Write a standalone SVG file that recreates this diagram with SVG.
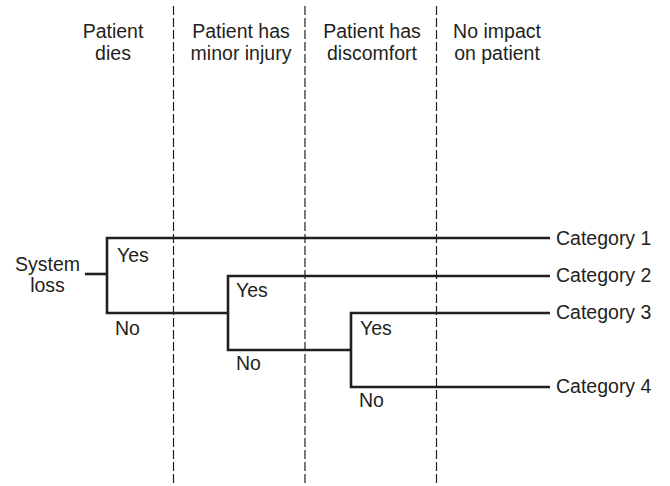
<svg xmlns="http://www.w3.org/2000/svg" width="670" height="486" viewBox="0 0 670 486">
<style>
text { font-family: "Liberation Sans", Arial, sans-serif; font-size: 19.5px; fill: #231f20; }
.c { text-anchor: middle; }
.div { stroke: #231f20; stroke-width: 1.2; stroke-dasharray: 9 3; fill: none; }
.edge { stroke: #231f20; stroke-width: 2.6; fill: none; stroke-linejoin: miter; stroke-linecap: butt; }
</style>
<rect width="670" height="486" fill="#ffffff"/>
<g id="dividers">
<line class="div" x1="173.5" y1="6" x2="173.5" y2="484"/>
<line class="div" x1="305" y1="6" x2="305" y2="484"/>
<line class="div" x1="436.5" y1="6" x2="436.5" y2="484"/>
</g>
<g id="headers">
<text class="c" x="113" y="38">Patient</text>
<text class="c" x="113" y="60">dies</text>
<text class="c" x="241" y="38">Patient has</text>
<text class="c" x="241" y="60">minor injury</text>
<text class="c" x="372" y="38">Patient has</text>
<text class="c" x="372" y="60">discomfort</text>
<text class="c" x="497" y="38">No impact</text>
<text class="c" x="497" y="60">on patient</text>
</g>
<g id="connectors">
<path class="edge" d="M85,274 H107"/>
<path class="edge" d="M550,238 H107 V313 H228"/>
<path class="edge" d="M550,276 H228 V350 H351"/>
<path class="edge" d="M550,313 H351 V387 H550"/>
</g>
<g id="root">
<text class="c" x="47.5" y="271">System</text>
<text class="c" x="47.5" y="292">loss</text>
</g>
<g id="decision1">
<text x="117" y="262">Yes</text>
<text x="115" y="335">No</text>
</g>
<g id="decision2">
<text x="236" y="297">Yes</text>
<text x="236" y="370">No</text>
</g>
<g id="decision3">
<text x="360" y="335">Yes</text>
<text x="359" y="407">No</text>
</g>
<g id="cat1"><text x="556" y="245">Category 1</text></g>
<g id="cat2"><text x="556" y="282">Category 2</text></g>
<g id="cat3"><text x="556" y="319">Category 3</text></g>
<g id="cat4"><text x="556" y="393">Category 4</text></g>
</svg>
